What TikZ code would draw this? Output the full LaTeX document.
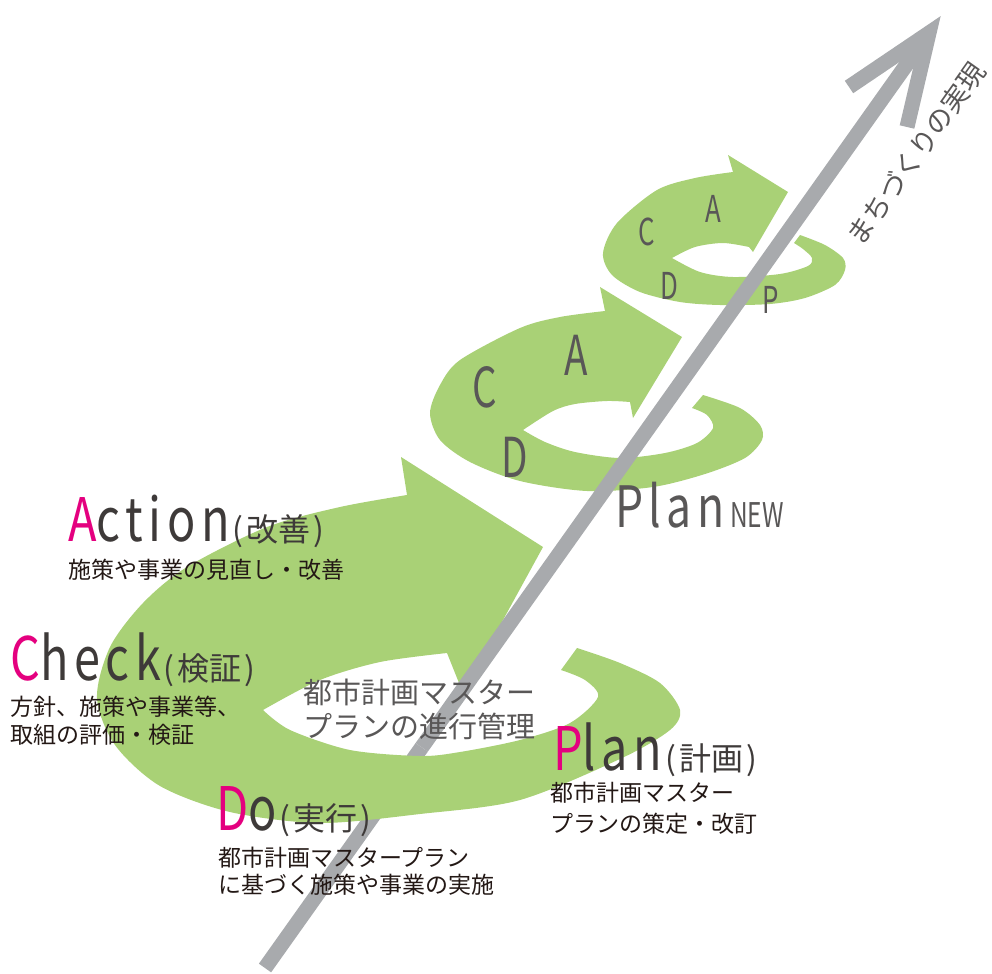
\documentclass[tikz,border=0pt]{standalone}
\usepackage{fontspec}
\usepackage{graphicx}
\setmainfont{Noto Sans CJK JP}
\newfontfamily\condfont[LetterSpace=12]{Noto Sans CJK JP}
\usetikzlibrary{calc}

\definecolor{ringgreen}{HTML}{A9D176}
\definecolor{axisgray}{HTML}{A8AAAD}
\definecolor{pdcapink}{HTML}{E4007F}
\definecolor{headtext}{HTML}{3E3A39}
\definecolor{softtext}{HTML}{595757}
\definecolor{bodytext}{HTML}{231815}

\newcommand{\cond}[2][0.78]{\scalebox{#1}[1]{\condfont #2}}
\newcommand{\pdca}[1]{\textcolor{pdcapink}{#1}}
\newcommand{\paren}[1]{\hspace{3bp}\fontsize{32bp}{32bp}\selectfont(\hspace{3bp}#1\hspace{3bp})}

\tikzstyle{ring}=[fill=ringgreen]
\tikzstyle{axis}=[draw=axisgray, line width=15bp]
\tikzstyle{stage}=[anchor=base west, inner sep=0pt, text=headtext, font=\fontsize{60bp}{60bp}\selectfont]
\tikzstyle{note}=[anchor=base west, inner sep=0pt, text=bodytext, font=\fontsize{23bp}{23bp}\selectfont]
\tikzstyle{mnote}=[anchor=base west, inner sep=0pt, text=softtext, font=\fontsize{29bp}{29bp}\selectfont]
\tikzstyle{bigletter}=[inner sep=0pt, text=softtext, font=\fontsize{55bp}{55bp}\selectfont]
\tikzstyle{smallletter}=[inner sep=0pt, text=softtext, font=\fontsize{37bp}{37bp}\selectfont]

\begin{document}
\begin{tikzpicture}[x=1bp, y=-1bp]

   \useasboundingbox (0,0) rectangle (992,974);

   \coordinate (axisfoot) at (265,968);
   \coordinate (axissplit) at ($(265,968)!0.236!(929,33)$);
   \coordinate (axistip) at (929,33);
   \coordinate (barbleft) at (849,87);
   \coordinate (barbright) at (907,127);

   % lower axis, behind the front of the big cycle
   \draw[axis] (axisfoot) -- (axissplit);

   % small cycle
   \fill[ring] plot[smooth] coordinates {(800,235) (825,245) (843,258) (845,270) (835,285) (805,298) (770,304) (720,305) (680,302) (640,292) (612,275) (603,253) (617,223) (657,190) (695,178) (733,172)}
      -- (728,155) -- (788,192) -- (753,252)
      -- plot[smooth] coordinates {(749,247) (723,243) (695,247) (672,258)}
      -- plot[smooth] coordinates {(672,258) (700,272) (733,277) (780,274) (808,266) (812,258) (803,249) (794,243)} -- cycle;

   % medium cycle
   \fill[ring] plot[smooth] coordinates {(703,395) (740,408) (760,425) (762,440) (745,458) (705,474) (653,487) (587,491) (520,481) (470,462) (440,440) (430,413) (440,385) (460,360) (520,328) (560,317) (605,311)}
      -- (600,287) -- (682,337) -- (633,418)
      -- plot[smooth] coordinates {(630,402) (607,401) (575,404) (553,411) (523,430)}
      -- plot[smooth] coordinates {(523,430) (545,442) (575,452) (620,458) (665,453) (697,443) (713,428) (707,415) (692,408)} -- cycle;

   % big cycle
   \fill[ring] plot[smooth] coordinates {(577,648) (620,663) (660,683) (680,710) (670,730) (622,758) (520,800) (420,814) (320,823) (230,812) (160,786) (115,745) (97,698) (110,647) (143,603) (187,567) (267,527) (340,507) (407,495)}
      -- (401,457) -- (543,547) -- (463,693)
      -- plot[smooth] coordinates {(447,653) (380,662) (320,680) (263,710)}
      -- plot[smooth] coordinates {(263,710) (290,730) (350,750) (420,756) (460,752) (520,740) (570,723) (598,697) (585,680) (561,670)} -- cycle;

   % upper axis and head
   \draw[axis] (axissplit) -- (axistip);
   \draw[axis, line join=miter, miter limit=20] (barbleft) -- (axistip) -- (barbright);

   \node[stage] (action) at (68,541) {\cond{\pdca{A}ction}\paren{改善}};
   \node[stage] (check) at (10,680) {\cond{\pdca{C}heck}\paren{検証}};
   \node[stage] (plan) at (553,770) {\cond{\pdca{P}lan}\paren{計画}};
   \node[stage] (do) at (216,830) {\cond{\pdca{D}o}\paren{実行}};
   \node[stage, text=softtext, font=\fontsize{57bp}{57bp}\selectfont] (plannew) at (615,527) {\cond{Plan}\hspace{6bp}\fontsize{34bp}{34bp}\selectfont\scalebox{0.72}[1]{NEW}};

   \foreach \pos/ \name / \label in {{(68,578)/actnote/施策や事業の見直し・改善}, {(10,715)/chknotea/方針、施策や事業等、}, {(10,743)/chknoteb/取組の評価・検証}, {(550,801)/plnnotea/都市計画マスター}, {(550,832)/plnnoteb/プランの策定・改訂}, {(218,866)/donotea/都市計画マスタープラン}, {(218,893)/donoteb/に基づく施策や事業の実施}}
      \node[note] (\name) at \pos {\label};

   \foreach \pos/ \name / \label in {{(303,703)/mgmta/都市計画マスター}, {(303,737)/mgmtb/プランの進行管理}}
      \node[mnote] (\name) at \pos {\label};

   \foreach \pos/ \name / \label in {{(485,387)/midc/C}, {(576,355)/mida/A}, {(515,457)/midd/D}}
      \node[bigletter] (\name) at \pos {\scalebox{0.7}[1]{\label}};

   \foreach \pos/ \name / \label in {{(647,232)/smlc/C}, {(713,209)/smla/A}, {(669,286)/smld/D}, {(771,300)/smlp/P}}
      \node[smallletter] (\name) at \pos {\scalebox{0.7}[1]{\label}};

   \node[rotate=54.6, inner sep=0pt, text=softtext, font=\fontsize{27bp}{27bp}\selectfont] (goal) at (916,154) {まちづくりの実現};

\end{tikzpicture}
\end{document}
